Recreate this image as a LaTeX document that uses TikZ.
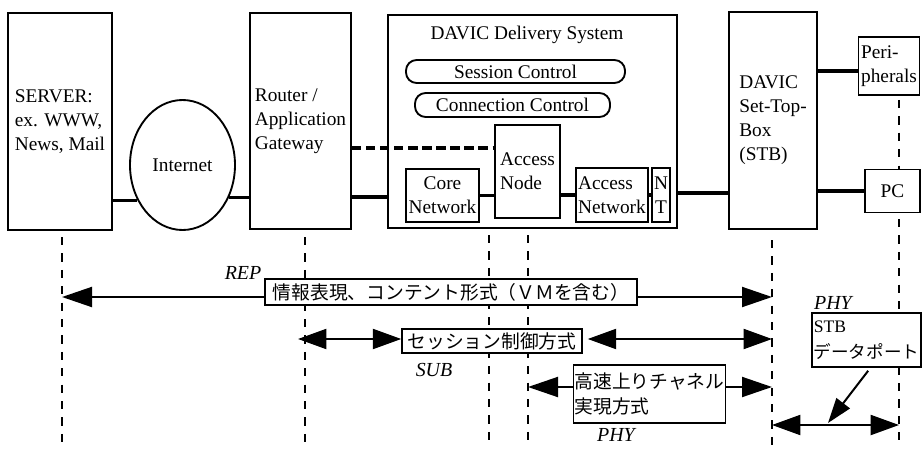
\documentclass[tikz,border=0pt]{standalone}
\usepackage{fontspec}
\setmainfont{Liberation Serif}
\newfontfamily\jp{Noto Sans CJK JP}
\usetikzlibrary{arrows.meta, shapes.geometric}

\tikzset{
  box/.style={draw, line width=1.6pt, fill=white, align=left, inner sep=2pt,
    font=\fontsize{16.5}{20.5}\selectfont},
  sized/.style 2 args={minimum width=#1*0.03cm, minimum height=#2*0.03cm},
  bus/.style={line width=3pt},
  lane/.style={line width=1.6pt, dash pattern=on 7pt off 7pt},
  link/.style={line width=1.7pt, -{Triangle[length=0.9cm,width=0.6cm]}},
  both/.style={line width=1.7pt,
    {Triangle[length=0.85cm,width=0.6cm]}-{Triangle[length=0.85cm,width=0.6cm]}},
  jbox/.style={draw, line width=1.3pt, fill=white, align=left, inner sep=1pt,
    font=\jp\fontsize{16}{22}\selectfont},
  tag/.style={font=\itshape\fontsize{17}{20}\selectfont},
}

\begin{document}
\begin{tikzpicture}[x=0.03cm, y=-0.03cm]
  \useasboundingbox (0,0) rectangle (922,451);

  \node[box, sized={104}{217}] (srv) at (60,121.5) {SERVER:\\ex. WWW,\\News, Mail};
  \node[box, ellipse, sized={105}{130}, inner sep=0pt, align=center] (net) at (182.5,165) {Internet};
  \node[box, sized={101}{216}] (gw) at (300.5,121) {Router /\\Application\\Gateway};

  \node[box, sized={289}{213}] (dds) at (532.5,121.5) {};
  \node[font=\fontsize{16.5}{20}\selectfont] (title) at (527,35) {DAVIC Delivery System};
  \node[box, rounded corners=9pt, sized={219}{23}, inner sep=0pt, align=center] (ses) at (515.5,71.5) {Session Control};
  \node[box, rounded corners=9pt, sized={195}{24}, inner sep=0pt, align=center] (con) at (512.5,105) {Connection Control};
  \node[box, sized={65}{93}] (an) at (527.5,171.5) {Access\\Node};
  \node[box, sized={71}{53}, align=center] (core) at (442.5,195.5) {Core\\Network};
  \node[box, sized={70}{54}] (anet) at (612,195) {Access\\Network};
  \node[box, sized={18}{54}, inner sep=1pt, align=center] (nt) at (661,195) {N\\T};

  \node[box, sized={88}{217}] (stb) at (773,120.5) {DAVIC\\Set-Top-\\Box\\(STB)};
  \node[box, sized={61}{58}] (per) at (889,66) {Peri-\\pherals};
  \node[box, sized={55}{43}, align=center] (pc) at (892.5,191) {PC};

  \draw[bus] (srv.east |- net.218) -- (net.218);
  \draw[bus] (net.325) -- (gw.west |- net.325);
  \coordinate (bus) at (0,197);
  \coordinate (tie) at (0,193);
  \coordinate (feed) at (0,71);
  \draw[bus] (gw.east |- bus) -- (dds.west |- bus);
  \draw[bus] (core.east) -- (an.west |- core.east);
  \draw[bus] (an.east |- anet.west) -- (anet.west);
  \draw[bus] (anet.east) -- (nt.west);
  \draw[bus] (dds.east |- tie) -- (stb.west |- tie);
  \draw[bus] (stb.east |- feed) -- (per.west |- feed);
  \draw[bus] (stb.east |- pc.west) -- (pc.west);
  \coordinate (ctl) at (0,148);
  \draw[line width=3pt, dash pattern=on 8pt off 4pt] (gw.east |- ctl) -- (an.west |- ctl);

  \coordinate (l1) at (62,237);
  \coordinate (l2) at (305,237);
  \coordinate (l3) at (489,235);
  \coordinate (l4) at (528,235);
  \coordinate (l5) at (772,240);
  \coordinate (l6) at (899,219);
  \coordinate (floor) at (0,446);
  \foreach \Lane in {l1, l2, l3, l4, l5, l6}{
    \draw[lane] (\Lane) -- (\Lane |- floor);
  }
  \draw[lane] ([yshift=-0.12cm]per.south -| l6) -- (pc.north -| l6);

  \coordinate (rA) at (0,297);
  \coordinate (rB) at (0,339);
  \coordinate (rC) at (0,387);
  \coordinate (rD) at (0,425);
  \coordinate (tap) at (828,423);

  \node[jbox, sized={372}{26}] (rep) at (451,292) {情報表現、コンテント形式（ＶＭを含む）};
  \node[tag] (reptag) at (243,273) {REP};
  \node[jbox, sized={180}{24}] (sub) at (492,341) {セッション制御方式};
  \node[tag] (subtag) at (434,370) {SUB};
  \node[jbox, sized={151}{58}] (up) at (649.5,394) {高速上りチャネル\\実現方式};
  \node[tag] (uptag) at (616,435) {PHY};
  \node[jbox, sized={109}{54}, font=\jp\fontsize{15}{22}\selectfont] (port) at (866.5,340) {{\rmfamily STB}\\データポート};
  \node[tag] (porttag) at (833,303) {PHY};

  \draw[link] (rep.west |- rA) -- (l1 |- rA);
  \draw[link] (rep.east |- rA) -- (l5 |- rA);
  \draw[both] ([xshift=-0.21cm]l2 |- rB) -- (sub.west |- rB);
  \draw[both] ([xshift=0.15cm]sub.east |- rB) -- (l5 |- rB);
  \draw[link] (up.west |- rC) -- (l4 |- rC);
  \draw[link] (up.east |- rC) -- (l5 |- rC);
  \draw[both] (l5 |- rD) -- (l6 |- rD);
  \draw[link, -{Triangle[length=0.75cm,width=0.5cm]}] ([xshift=0.05cm, yshift=-0.09cm]port.south) -- (tap);
\end{tikzpicture}
\end{document}
